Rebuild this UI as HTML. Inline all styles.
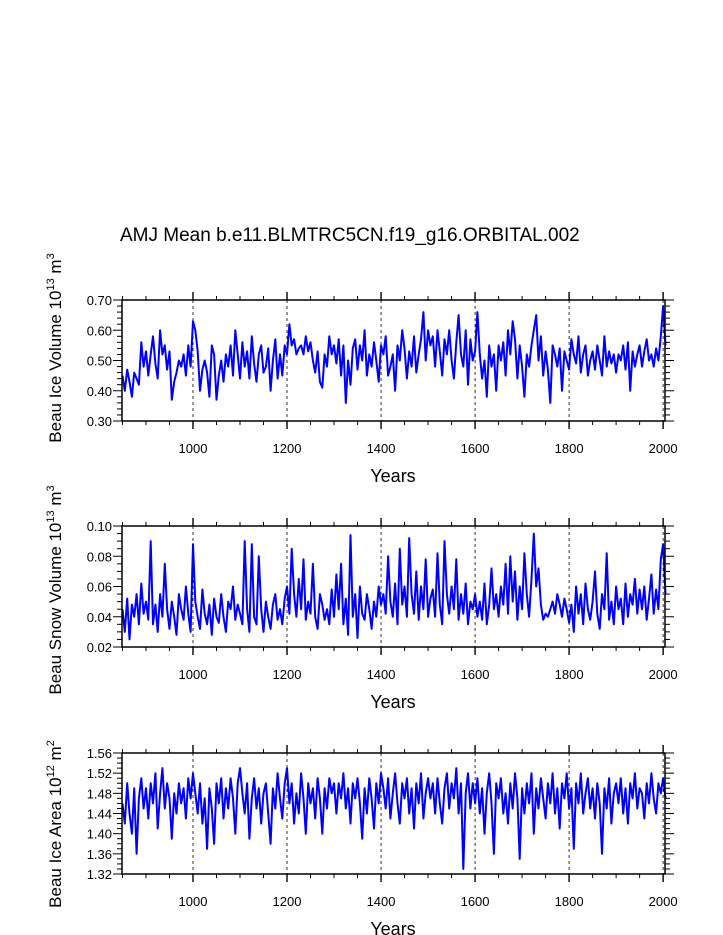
<!DOCTYPE html>
<html><head><meta charset="utf-8"><style>
body{margin:0;background:#fff}
svg{display:block;font-family:"Liberation Sans",sans-serif}
</style></head><body>
<svg id="c" width="723" height="935" xmlns="http://www.w3.org/2000/svg">
<text x="120" y="241" font-size="19">AMJ Mean b.e11.BLMTRC5CN.f19_g16.ORBITAL.002</text>
</svg>
<script>
const startYear = 850;
const yearStep = 5;
const xTickYears = [1000, 1200, 1400, 1600, 1800, 2000];
const iceVolume = [
.45,.40,.47,.43,.38,.46,.44,.42,.56,.48,.53,
.45,.52,.58,.49,.44,.60,.52,.55,.47,.53,
.37,.43,.46,.50,.48,.52,.45,.55,.48,.63,
.60,.53,.40,.47,.50,.46,.38,.55,.52,.37,
.45,.50,.43,.52,.48,.55,.45,.60,.52,.44,
.56,.48,.53,.44,.58,.49,.43,.52,.55,.46,
.48,.54,.40,.50,.57,.44,.52,.45,.55,.52,
.62,.55,.57,.52,.54,.55,.52,.58,.53,.56,
.50,.46,.53,.43,.41,.52,.48,.58,.52,.55,
.49,.57,.45,.55,.36,.50,.42,.54,.57,.47,
.55,.50,.60,.45,.52,.48,.56,.50,.43,.55,
.52,.58,.45,.48,.52,.40,.55,.50,.60,.54,
.44,.53,.48,.58,.46,.52,.57,.66,.50,.60,
.55,.58,.48,.60,.53,.45,.57,.52,.60,.50,
.44,.56,.65,.52,.48,.60,.42,.57,.50,.53,
.66,.52,.44,.50,.38,.55,.48,.52,.40,.55,
.50,.56,.45,.60,.52,.63,.57,.44,.55,.48,
.38,.52,.48,.55,.60,.65,.50,.58,.45,.53,
.47,.36,.55,.52,.48,.54,.40,.53,.50,.47,
.57,.52,.49,.58,.46,.52,.55,.45,.50,.53,
.47,.55,.50,.45,.58,.48,.53,.49,.52,.46,
.52,.50,.55,.47,.56,.40,.53,.48,.52,.55,
.48,.53,.57,.50,.52,.48,.54,.50,.58,.68,
.55];
const snowVolume = [
.045,.030,.052,.025,.048,.040,.055,.035,.062,.042,.050,
.038,.090,.035,.048,.030,.055,.040,.075,.045,.032,
.050,.040,.028,.055,.045,.038,.060,.042,.030,.088,
.050,.040,.032,.058,.042,.035,.048,.028,.052,.040,
.036,.055,.040,.030,.050,.045,.060,.038,.048,.042,
.035,.090,.045,.030,.088,.040,.035,.080,.045,.030,
.050,.040,.032,.048,.055,.038,.045,.035,.052,.060,
.042,.085,.055,.040,.065,.045,.078,.038,.050,.042,
.075,.040,.032,.055,.048,.038,.045,.035,.058,.040,
.068,.045,.075,.035,.052,.028,.094,.040,.055,.026,
.060,.042,.038,.055,.045,.032,.050,.040,.060,.048,
.055,.042,.080,.050,.040,.062,.035,.085,.048,.060,
.040,.092,.055,.042,.070,.038,.060,.045,.078,.040,
.052,.058,.040,.082,.048,.035,.090,.055,.042,.060,
.045,.078,.038,.055,.042,.062,.035,.050,.045,.055,
.040,.050,.038,.062,.035,.048,.072,.045,.055,.040,
.060,.048,.075,.042,.080,.050,.070,.038,.060,.045,
.082,.055,.040,.065,.095,.060,.072,.048,.038,.042,
.040,.045,.050,.042,.055,.048,.040,.052,.045,.036,
.048,.030,.060,.042,.055,.035,.062,.045,.038,.050,
.070,.042,.032,.055,.045,.082,.038,.050,.035,.060,
.045,.052,.035,.062,.040,.055,.048,.065,.042,.058,
.045,.060,.038,.052,.068,.042,.058,.045,.078,.088,
.055];
const iceArea = [
1.46,1.42,1.50,1.44,1.40,1.49,1.36,1.47,1.51,1.45,1.49,
1.43,1.50,1.46,1.52,1.41,1.48,1.53,1.45,1.50,1.47,
1.39,1.48,1.44,1.50,1.46,1.49,1.43,1.51,1.47,1.52,
1.48,1.44,1.50,1.42,1.47,1.37,1.49,1.45,1.38,1.50,
1.46,1.51,1.43,1.49,1.45,1.51,1.47,1.40,1.50,1.53,
1.48,1.44,1.50,1.39,1.47,1.51,1.45,1.49,1.42,1.48,
1.50,1.44,1.38,1.49,1.45,1.52,1.47,1.43,1.50,1.53,
1.46,1.50,1.42,1.48,1.44,1.52,1.47,1.40,1.50,1.46,
1.49,1.43,1.51,1.47,1.40,1.49,1.45,1.51,1.48,1.50,
1.44,1.50,1.47,1.52,1.45,1.49,1.42,1.50,1.47,1.51,
1.46,1.39,1.49,1.44,1.51,1.47,1.41,1.50,1.46,1.52,
1.49,1.45,1.51,1.43,1.48,1.52,1.46,1.42,1.50,1.47,
1.51,1.44,1.49,1.41,1.50,1.46,1.52,1.43,1.48,1.51,
1.47,1.50,1.44,1.51,1.46,1.42,1.49,1.52,1.45,1.50,
1.47,1.53,1.44,1.50,1.33,1.48,1.52,1.45,1.50,1.46,
1.51,1.44,1.49,1.40,1.48,1.52,1.46,1.36,1.50,1.47,
1.51,1.44,1.48,1.42,1.50,1.45,1.52,1.47,1.35,1.49,
1.44,1.50,1.46,1.52,1.40,1.49,1.45,1.51,1.47,1.43,
1.50,1.46,1.52,1.44,1.49,1.41,1.50,1.47,1.52,1.45,
1.49,1.37,1.50,1.46,1.52,1.44,1.48,1.51,1.45,1.49,
1.43,1.50,1.46,1.36,1.49,1.45,1.51,1.42,1.48,1.50,
1.46,1.51,1.44,1.49,1.42,1.50,1.47,1.52,1.45,1.49,
1.48,1.43,1.50,1.46,1.52,1.47,1.44,1.50,1.48,1.51,
1.47];
const volTicks = ["0.30","0.40","0.50","0.60","0.70"];
const snowTicks = ["0.02","0.04","0.06","0.08","0.10"];
const areaTicks = ["1.32","1.36","1.40","1.44","1.48","1.52","1.56"];

const NS="http://www.w3.org/2000/svg";
const svg=document.getElementById('c');
function mk(tag,attrs,parent){const e=document.createElementNS(NS,tag);for(const k in attrs)e.setAttribute(k,attrs[k]);(parent||svg).appendChild(e);return e;}
const X0=122,X1=665,yearMin=849,yearMax=2004;
function xs(yr){return X0+(yr-yearMin)/(yearMax-yearMin)*(X1-X0);}

function panel(key,top,data,ticks,yMin,yMax,minorStep,labelMain,sup,unit,unitSup,labelCY){
  const H=121,B=top+H;
  const g=mk('g',{});
  
  
  const ys=v=>B-(v-yMin)/(yMax-yMin)*H;
  xTickYears.forEach(yr=>{const l=mk('line',{x1:xs(yr),x2:xs(yr),y1:top,y2:B,stroke:'#000','stroke-width':0.8,'stroke-dasharray':'3,3'},g);
    
    });
  let d='';data.forEach((v,i)=>{d+=(i?'L':'M')+xs(startYear+i*yearStep).toFixed(1)+','+ys(v).toFixed(1);});
  const p=mk('path',{d:d,fill:'none',stroke:'#0000ff','stroke-width':2,'stroke-linejoin':'round'},g);
  
  
  const f=mk('rect',{x:X0,y:top,width:X1-X0,height:H,fill:'none',stroke:'#000','stroke-width':1.5},g);
  
  
  for(let yr=850;yr<=2000;yr+=50){const maj=yr%200===0;const L=maj?8:4;
    mk('line',{x1:xs(yr),x2:xs(yr),y1:top,y2:top-L,stroke:'#000','stroke-width':maj?1.4:1},g);
    mk('line',{x1:xs(yr),x2:xs(yr),y1:B,y2:B+L,stroke:'#000','stroke-width':maj?1.4:1},g);}
  xTickYears.forEach(yr=>{const t=mk('text',{x:xs(yr),y:B+32,'font-size':13,'text-anchor':'middle'},g);t.textContent=yr;
    
    });
  const n=Math.round((yMax-yMin)/minorStep);
  const perMaj=Math.round(n/(ticks.length-1));
  for(let i=0;i<=n;i++){const y=ys(yMin+i*minorStep);const maj=i%perMaj===0;const L=maj?9:5;
    mk('line',{x1:X0,x2:X0-L,y1:y,y2:y,stroke:'#000','stroke-width':1},g);
    mk('line',{x1:X1,x2:X1+L,y1:y,y2:y,stroke:'#000','stroke-width':1},g);}
  ticks.forEach((lab,i)=>{const t=mk('text',{x:112,y:ys(parseFloat(lab))+5,'font-size':13,'text-anchor':'end'},g);t.textContent=lab;
    
    });
  const xt=mk('text',{x:393,y:B+61,'font-size':18,'text-anchor':'middle'},g);xt.textContent='Years';
  
  
  const yt=mk('text',{transform:'translate(61,'+labelCY+') rotate(-90)','font-size':17,'text-anchor':'middle'},g);
  
  
  const a=mk('tspan',{},yt);a.textContent=labelMain;
  const b=mk('tspan',{dy:-7,'font-size':11},yt);b.textContent=sup;
  const c=mk('tspan',{dy:7},yt);c.textContent=unit;
  const e=mk('tspan',{dy:-7,'font-size':11},yt);e.textContent=unitSup;
}
panel('ice-volume',300,iceVolume,volTicks,0.30,0.70,0.02,'Beau Ice Volume 10','13',' m','3',348);
panel('snow-volume',526,snowVolume,snowTicks,0.02,0.10,0.005,'Beau Snow Volume 10','13',' m','3',590);
panel('ice-area',753,iceArea,areaTicks,1.32,1.56,0.01,'Beau Ice Area 10','12',' m','2',824);
</script>
</body></html>
